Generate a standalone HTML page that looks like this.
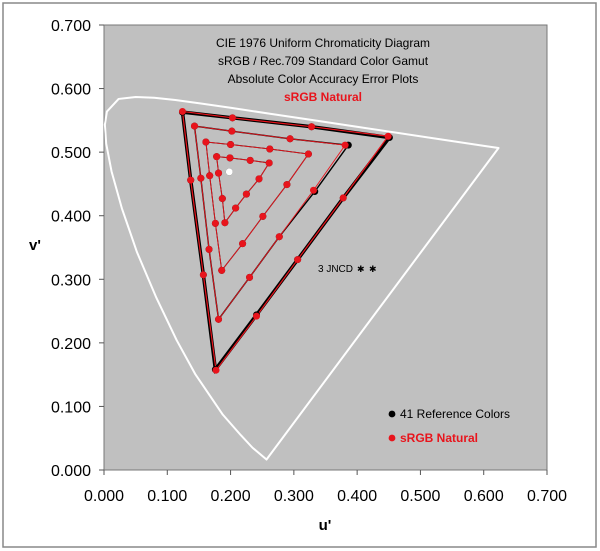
<!DOCTYPE html>
<html><head><meta charset="utf-8"><style>
html,body{margin:0;padding:0;background:#fff;}
svg{display:block;font-family:"Liberation Sans",Arial,sans-serif;}
</style></head><body>
<svg id="chart" width="600" height="551" viewBox="0 0 600 551">
<rect x="3" y="3" width="593" height="544" fill="#fff" stroke="#888" stroke-width="1.5"/>
<rect x="104" y="25" width="443" height="445" fill="#c0c0c0" stroke="#777" stroke-width="1"/>
<g id="axes"></g>
<g id="locus"></g>
<g id="tris"></g>
<g id="pts"></g>
<text x="323" y="47" text-anchor="middle" font-size="12">CIE 1976 Uniform Chromaticity Diagram</text>
<text x="323" y="65" text-anchor="middle" font-size="12">sRGB / Rec.709 Standard Color Gamut</text>
<text x="323" y="83" text-anchor="middle" font-size="12">Absolute Color Accuracy Error Plots</text>
<text x="323" y="101" text-anchor="middle" font-size="12" font-weight="bold" fill="#e8141c">sRGB Natural</text>
<g>
<text x="318" y="272" font-size="10">3 JNCD</text>
<text x="357" y="272" font-size="9">✱</text>
<text x="369" y="272" font-size="9">✱</text>
</g>
<g>
<circle cx="392" cy="414" r="3.4" fill="#000"/>
<text x="400" y="418" font-size="12">41 Reference Colors</text>
<circle cx="392" cy="438" r="3.4" fill="#e8141c"/>
<text x="400" y="442" font-size="12" font-weight="bold" fill="#e8141c">sRGB Natural</text>
</g>
<text x="325" y="530" text-anchor="middle" font-size="15" font-weight="bold">u'</text>
<text x="35" y="250" text-anchor="middle" font-size="15" font-weight="bold">v'</text>
</svg>
<script>
const xTicks = [0,0.1,0.2,0.3,0.4,0.5,0.6,0.7];
const yTicks = [0,0.1,0.2,0.3,0.4,0.5,0.6,0.7];
const locusU = [0.2568,0.2347,0.2161,0.1877,0.1441,0.1147,0.0828,0.0521,0.0282,0.0119,0.0035,0.0014,0.0046,0.0231,0.0501,0.0792,0.1127,0.1531,0.2026,0.2623,0.3315,0.4035,0.5203,0.6005,0.6234];
const locusV = [0.0165,0.0350,0.0549,0.0871,0.1510,0.2044,0.2708,0.3427,0.4117,0.4698,0.5131,0.5432,0.5638,0.5837,0.5868,0.5856,0.5821,0.5766,0.5694,0.5604,0.5501,0.5393,0.5219,0.5099,0.5065];
const refU = [
0.124,0.203,0.328,0.451,0.378,0.306,0.241,0.176,0.157,0.137,
0.143,0.202,0.294,0.386,0.333,0.277,0.230,0.181,0.166,0.153,
0.161,0.200,0.262,0.323,0.289,0.251,0.219,0.186,0.176,0.167,
0.178,0.199,0.231,0.261,0.245,0.225,0.208,0.191,0.187,0.181,
0.198];
const refV = [
0.563,0.554,0.540,0.523,0.428,0.331,0.244,0.158,0.307,0.456,
0.541,0.533,0.521,0.511,0.438,0.367,0.303,0.237,0.347,0.459,
0.516,0.512,0.505,0.497,0.449,0.399,0.356,0.314,0.388,0.463,
0.493,0.491,0.487,0.483,0.458,0.434,0.412,0.389,0.427,0.467,
0.469];
const measU = [
0.124,0.203,0.328,0.449,0.378,0.306,0.241,0.177,0.157,0.137,
0.143,0.202,0.294,0.381,0.331,0.277,0.230,0.181,0.166,0.153,
0.161,0.200,0.262,0.323,0.289,0.251,0.219,0.186,0.176,0.167,
0.178,0.199,0.231,0.261,0.245,0.225,0.208,0.191,0.187,0.181,
0.198];
const measV = [
0.564,0.554,0.540,0.525,0.428,0.331,0.242,0.157,0.307,0.456,
0.541,0.533,0.521,0.511,0.440,0.367,0.303,0.237,0.347,0.459,
0.516,0.512,0.505,0.497,0.449,0.399,0.356,0.314,0.388,0.463,
0.493,0.491,0.487,0.483,0.458,0.434,0.412,0.389,0.427,0.467,
0.469];

const X0=104,X1=547,Y0=470,Y1=25;
const sx = u => X0 + u/0.7*(X1-X0);
const sy = v => Y0 - v/0.7*(Y0-Y1);
const NS="http://www.w3.org/2000/svg";
function mk(tag, attrs, parent){const e=document.createElementNS(NS,tag);for(const k in attrs)e.setAttribute(k,attrs[k]);parent.appendChild(e);return e;}
const axes=document.getElementById('axes');
xTicks.forEach(t=>{
  const l=mk('line',{x1:sx(t),x2:sx(t),y1:Y0,y2:Y0+5,stroke:'#555'},axes);
  
  
  const tx=mk('text',{x:sx(t),y:Y0+31,'text-anchor':'middle','font-size':'16'},axes);
  tx.textContent=t.toFixed(3);
  
  
});
yTicks.forEach(t=>{
  const l=mk('line',{x1:X0-5,x2:X0,y1:sy(t),y2:sy(t),stroke:'#555'},axes);
  
  
  const tx=mk('text',{x:X0-13,y:sy(t)+6,'text-anchor':'end','font-size':'16'},axes);
  tx.textContent=t.toFixed(3);
  
  
});
const lp=locusU.map((u,i)=>sx(u)+','+sy(locusV[i])).join(' ');
const loc=mk('polygon',{points:lp,fill:'none',stroke:'#fff','stroke-width':'2','stroke-linejoin':'round','stroke-linecap':'round'},document.getElementById('locus'));


const tris=document.getElementById('tris');
const refW=[3.5,1.4,1,1];
for(let r=0;r<4;r++){
  const idx=[...Array(10).keys()].map(k=>r*10+k);
  const p1=idx.map(i=>sx(refU[i])+','+sy(refV[i])).join(' ');
  const a=mk('polygon',{points:p1,fill:'none',stroke:'#000','stroke-width':refW[r]},tris);
  
  
  const p2=idx.map(i=>sx(measU[i])+','+sy(measV[i])).join(' ');
  const b=mk('polygon',{points:p2,fill:'none',stroke:'#e8141c','stroke-width':r==0?1.2:0.9},tris);
  
  
}
const pts=document.getElementById('pts');
refU.forEach((u,i)=>{
  const c=mk('circle',{cx:sx(u),cy:sy(refV[i]),r:3.5,fill:'#000'},pts);
  
  
});
measU.forEach((u,i)=>{
  const c=mk('circle',{cx:sx(u),cy:sy(measV[i]),r:3.5,fill:i==40?'#fff':'#e8141c'},pts);
  
  
});
</script>
</body></html>
